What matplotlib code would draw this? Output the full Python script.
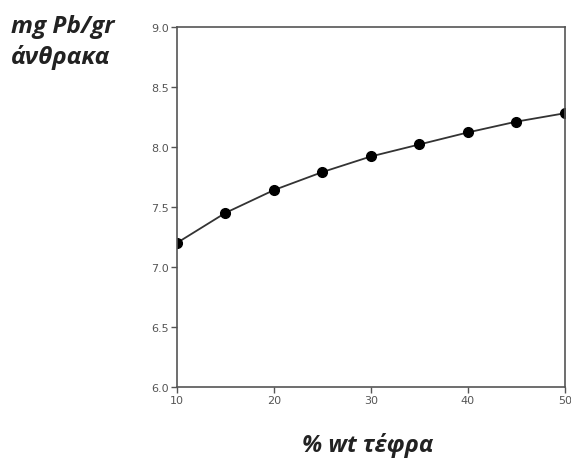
import matplotlib.pyplot as plt

# ash content (% wt) vs lead adsorbed (mg Pb / gr carbon)
ash_pct = [10, 15, 20, 25, 30, 35, 40, 45, 50]
pb_mg = [7.20, 7.45, 7.64, 7.79, 7.92, 8.02, 8.12, 8.21, 8.28]

x_ticks = [10, 20, 30, 40, 50]
y_ticks = [6.0, 6.5, 7.0, 7.5, 8.0, 8.5, 9.0]

fig = plt.figure(figsize=(5.71, 4.64), dpi=100)
ax = fig.add_axes([0.31, 0.164, 0.679, 0.776])

ax.plot(ash_pct, pb_mg, color='#333333', lw=1.3, marker='o', ms=7,
        markerfacecolor='black', markeredgecolor='black')

ax.set_xlim(10, 50)
ax.set_ylim(6.0, 9.0)
ax.set_xticks(x_ticks)
ax.set_yticks(y_ticks)
ax.set_yticklabels([f"{v:.1f}" for v in y_ticks])
ax.tick_params(direction='out', length=4, width=1, color='#555555',
               labelsize=8, labelcolor='#555555', pad=2)
for s in ax.spines.values():
    s.set_color('#555555')
    s.set_linewidth(1.2)

fig.text(0.02, 0.968, "mg Pb/gr\nάνθρακα", ha='left', va='top',
         fontsize=17.5, fontweight='bold', fontstyle='italic',
         family='Open Sans', color='#222222', linespacing=1.35)
fig.text(0.643, 0.012, "% wt τέφρα", ha='center', va='bottom',
         fontsize=17, fontweight='bold', fontstyle='italic',
         family='Open Sans', color='#222222')

fig.savefig("out.png", dpi=100)
